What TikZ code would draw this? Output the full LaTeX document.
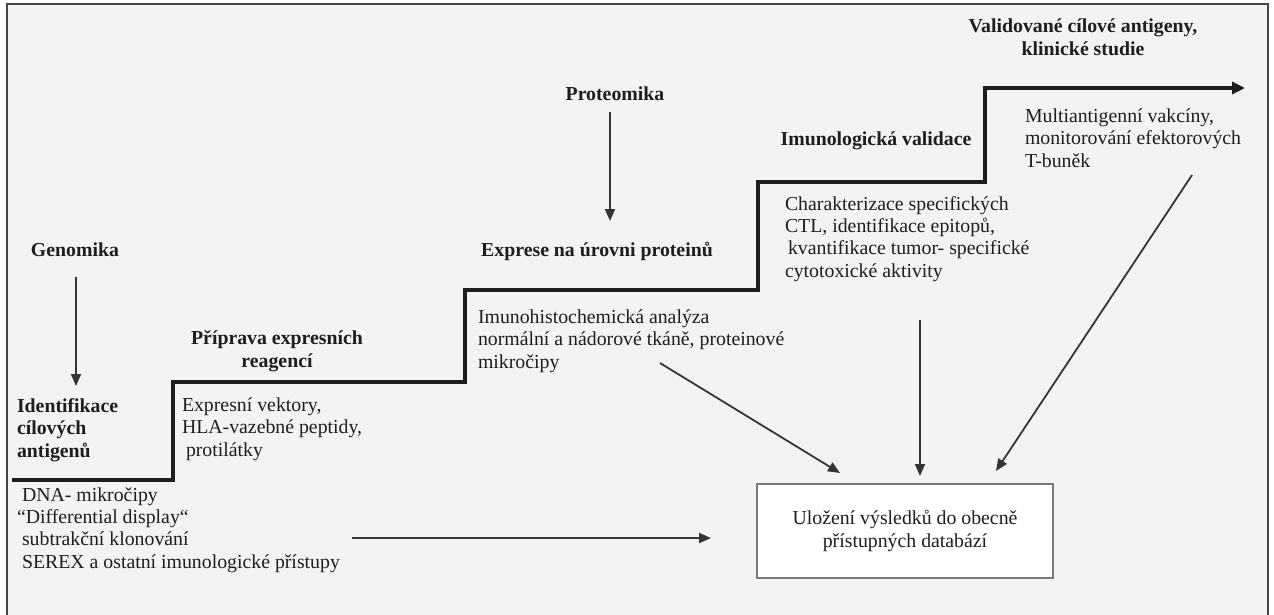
\documentclass[tikz,border=0pt]{standalone}
\usepackage{fontspec}
\setmainfont{Liberation Serif}
\usetikzlibrary{arrows.meta}
\definecolor{bg}{HTML}{F3F3F3}
\definecolor{ink}{HTML}{1E1E1E}
\definecolor{frame}{HTML}{444444}
\definecolor{boxline}{HTML}{7A7A7A}
\tikzset{
  txt/.style={inner sep=0pt, outer sep=0pt, text=ink, font=\fontsize{19.8}{22.3}\selectfont, align=left},
  btxt/.style={txt, font=\fontsize{19.8}{22.3}\selectfont\bfseries, align=center},
  arr/.style={draw=ink!90, line width=1.8pt, -{Triangle[length=12pt,width=10pt]}},
  stair/.style={draw=ink, line width=3.8pt, line join=miter, -{Triangle[length=13pt,width=12pt]}},
  dbbox/.style={draw=boxline, line width=1.3pt, fill=white, minimum width=296pt, minimum height=94pt, inner sep=0pt, align=center, text=ink, font=\fontsize{19.8}{23}\selectfont}
}
\begin{document}
\begin{tikzpicture}[x=1pt,y=-1pt]
\useasboundingbox (0,0) rectangle (1274,614);
\fill[white] (0,0) rectangle (1274,614);
\draw[frame, line width=2pt, fill=bg] (7,4) rectangle (1268,640);

% staircase
\coordinate (s0) at (12,480);
\coordinate (s1) at (173,480);
\coordinate (s2) at (173,382);
\coordinate (s3) at (465,382);
\coordinate (s4) at (465,290);
\coordinate (s5) at (758,290);
\coordinate (s6) at (758,182);
\coordinate (s7) at (985,182);
\coordinate (s8) at (985,88);
\coordinate (s9) at (1245,88);
\draw[stair] (s0) -- (s1) -- (s2) -- (s3) -- (s4) -- (s5) -- (s6) -- (s7) -- (s8) -- (s9);

% labels (base anchor = baseline of the last line)
\node[btxt, anchor=base] (gen) at (75,256) {Genomika};
\node[btxt, anchor=base west, align=left] (ident) at (17,457) {Identifikace\\cílových\\antigenů};
\node[btxt, anchor=base] (prip) at (277,367) {Příprava expresních\\reagencí};
\node[txt, anchor=base west] (expv) at (182,456) {Expresní vektory,\\HLA-vazebné peptidy,\\\hspace*{4pt}protilátky};
\node[txt, anchor=base west] (dna) at (17,568) {\hspace*{5pt}DNA- mikročipy\\“Differential display“\\\hspace*{5pt}subtrakční klonování\\\hspace*{5pt}SEREX a ostatní imunologické přístupy};
\node[btxt, anchor=base] (prot) at (615,100) {Proteomika};
\node[btxt, anchor=base] (expr) at (597,256) {Exprese na úrovni proteinů};
\node[txt, anchor=base west] (imh) at (478,368) {Imunohistochemická analýza\\normální a nádorové tkáně, proteinové\\mikročipy};
\node[btxt, anchor=base] (imv) at (876,145) {Imunologická validace};
\node[txt, anchor=base west] (char) at (785,277) {Charakterizace specifických\\CTL, identifikace epitopů,\\\hspace*{3pt}kvantifikace tumor- specifické\\cytotoxické aktivity};
\node[btxt, anchor=base] (val) at (1083,55) {Validované cílové antigeny,\\klinické studie};
\node[txt, anchor=base west] (multi) at (1025,167) {Multiantigenní vakcíny,\\monitorování efektorových\\T-buněk};

\node[dbbox] (db) at (905,531) {Uložení výsledků do obecně\\přístupných databází};

% arrow end points
\coordinate (g1) at (76,277);
\coordinate (g2) at (76,386);
\coordinate (p1) at (610,112);
\coordinate (p2) at (610,221);
\coordinate (d1) at (352,538);
\coordinate (d2) at (711,538);
\coordinate (i1) at (660,363);
\coordinate (i2) at (840,473);
\coordinate (c1) at (920,320);
\coordinate (c2) at (920,476);
\coordinate (m1) at (1192,175);
\coordinate (m2) at (996,471);

\draw[arr] (g1) -- (g2);
\draw[arr] (p1) -- (p2);
\draw[arr] (d1) -- (d2);
\draw[arr] (i1) -- (i2);
\draw[arr] (c1) -- (c2);
\draw[arr] (m1) -- (m2);
\end{tikzpicture}
\end{document}
